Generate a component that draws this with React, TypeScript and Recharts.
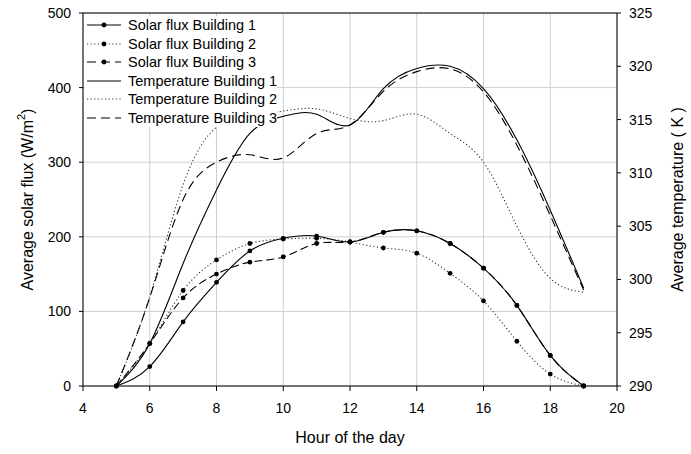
import React from 'react';
import { ComposedChart, Line, XAxis, YAxis, CartesianGrid, Legend, ReferenceLine, Label } from 'recharts';

const hours = [5, 6, 7, 8, 9, 10, 11, 12, 13, 14, 15, 16, 17, 18, 19];
const solar1 = [0, 26, 86, 139, 181, 198, 201, 193, 206, 208, 191, 158, 108, 41, 0];
const solar2 = [0, 57, 128, 169, 191, 197, 198, 193, 185, 178, 151, 114, 60, 16, 0];
const solar3 = [0, 57, 118, 150, 166, 173, 191, 193, 206, 208, 191, 158, 108, 41, 0];
const temp1 = [290, 294.0, 301.5, 308.4, 313.7, 315.3, 315.5, 314.5, 317.9, 319.8, 320.0, 317.9, 313.1, 306.5, 299.2];
const temp2 = [290, 298.4, 308.9, 314.3, 315.4, 315.8, 316.0, 315.1, 314.9, 315.5, 313.7, 311.0, 305.0, 300.1, 298.8];
const temp3 = [290, 298.3, 307.5, 311.0, 311.7, 311.4, 313.7, 314.5, 317.65, 319.5, 319.75, 317.6, 312.6, 306.0, 299.0];

const xTicks = [4, 6, 8, 10, 12, 14, 16, 18, 20];
const fluxTicks = [0, 100, 200, 300, 400, 500];
const tempTicks = [290, 295, 300, 305, 310, 315, 320, 325];

const seriesNames = [
  'Solar flux Building 1',
  'Solar flux Building 2',
  'Solar flux Building 3',
  'Temperature Building 1',
  'Temperature Building 2',
  'Temperature Building 3',
];

const data = hours.map((h, i) => ({
  h,
  s1: solar1[i],
  s2: solar2[i],
  s3: solar3[i],
  t1: temp1[i],
  t2: temp2[i],
  t3: temp3[i],
}));

const FONT = '"Liberation Sans", Arial, sans-serif';
const DOTTED = '1.2 2.4';
const DASHED = '9 5';
const legendStyles = [
  { dash: undefined, dot: true, color: '#000' },
  { dash: DOTTED, dot: true, color: '#333' },
  { dash: DASHED, dot: true, color: '#000' },
  { dash: undefined, dot: false, color: '#000' },
  { dash: DOTTED, dot: false, color: '#333' },
  { dash: DASHED, dot: false, color: '#000' },
];

const renderLegend = () => (
  <div style={{ fontFamily: FONT, fontSize: 14.5, color: '#000' }}>
    {seriesNames.map((name, i) => (
      <div key={name} style={{ display: 'flex', alignItems: 'center', height: 18.5, width: 'fit-content', background: '#fff' }}>
        <svg width={43} height={18} style={{ display: 'block' }}>
          <line x1={2} y1={9} x2={36} y2={9} stroke={legendStyles[i].color} strokeWidth={1.1} strokeDasharray={legendStyles[i].dash} />
          {legendStyles[i].dot && <circle cx={19} cy={9} r={2.4} fill="#000" />}
        </svg>
        <span style={{ whiteSpace: 'nowrap', lineHeight: '18px' }}>{name}</span>
      </div>
    ))}
  </div>
);

const XLabel = (props: any) => {
  const vb = props.viewBox;
  return (
    <text x={vb.x + vb.width / 2} y={vb.y + 57} textAnchor="middle" fontFamily={FONT} fontSize={16} fill="#000">
      Hour of the day
    </text>
  );
};

const LeftLabel = (props: any) => {
  const vb = props.viewBox;
  const cx = 27;
  const cy = vb.y + vb.height / 2;
  return (
    <text x={cx} y={cy} transform={`rotate(-90 ${cx} ${cy})`} textAnchor="middle" dominantBaseline="central" fontFamily={FONT} fontSize={16} fill="#000">
      Average solar flux (W/m<tspan fontSize={11} dy={-6}>2</tspan><tspan dy={6}>)</tspan>
    </text>
  );
};

const RightLabel = (props: any) => {
  const vb = props.viewBox;
  const cx = 677;
  const cy = vb.y + vb.height / 2;
  return (
    <text x={cx} y={cy} transform={`rotate(-90 ${cx} ${cy})`} textAnchor="middle" dominantBaseline="central" fontFamily={FONT} fontSize={16} fill="#000">
      Average temperature ( K )
    </text>
  );
};

const tickStyle = { fontFamily: FONT, fontSize: 14, fill: '#000' };
const dotStyle = { r: 2.4, fill: '#000', stroke: '#000', strokeWidth: 0 };

export default function App() {
  return (
    <div style={{ position: 'absolute', left: 0, top: 0, width: 691, height: 454, background: '#fff' }}>
      <ComposedChart width={691} height={454} data={data} margin={{ top: 13, right: 14, bottom: 18, left: 23 }}>
        <CartesianGrid yAxisId="left" stroke="#cfcfcf" strokeWidth={1} />
        <XAxis
          dataKey="h"
          type="number"
          domain={[4, 20]}
          ticks={xTicks}
          height={50}
          tickSize={5}
          tickMargin={12}
          tick={tickStyle}
          stroke="#000"
          axisLine={{ stroke: '#000' }}
          tickLine={{ stroke: '#000' }}
        >
          <Label content={XLabel} />
        </XAxis>
        <YAxis
          yAxisId="left"
          domain={[0, 500]}
          ticks={fluxTicks}
          width={60}
          tickSize={4}
          tickMargin={8}
          tick={tickStyle}
          axisLine={{ stroke: '#000' }}
          tickLine={{ stroke: '#000' }}
        >
          <Label content={LeftLabel} />
        </YAxis>
        <YAxis
          yAxisId="right"
          orientation="right"
          domain={[290, 325]}
          ticks={tempTicks}
          width={60}
          tickSize={4}
          tickMargin={8}
          tick={tickStyle}
          axisLine={{ stroke: '#000' }}
          tickLine={{ stroke: '#000' }}
        >
          <Label content={RightLabel} />
        </YAxis>
        <ReferenceLine yAxisId="left" y={500} stroke="#000" strokeWidth={1} />
        <Line yAxisId="right" dataKey="t2" name={seriesNames[4]} type="natural" stroke="#333" strokeWidth={1.1} strokeDasharray={DOTTED} dot={false} isAnimationActive={false} />
        <Line yAxisId="right" dataKey="t3" name={seriesNames[5]} type="natural" stroke="#000" strokeWidth={1.1} strokeDasharray={DASHED} dot={false} isAnimationActive={false} />
        <Line yAxisId="right" dataKey="t1" name={seriesNames[3]} type="natural" stroke="#000" strokeWidth={1.1} dot={false} isAnimationActive={false} />
        <Line yAxisId="left" dataKey="s3" name={seriesNames[2]} type="natural" stroke="#000" strokeWidth={1.1} strokeDasharray="8 4" dot={dotStyle} isAnimationActive={false} />
        <Line yAxisId="left" dataKey="s2" name={seriesNames[1]} type="natural" stroke="#333" strokeWidth={1.1} strokeDasharray={DOTTED} dot={dotStyle} isAnimationActive={false} />
        <Line yAxisId="left" dataKey="s1" name={seriesNames[0]} type="natural" stroke="#000" strokeWidth={1.1} dot={dotStyle} isAnimationActive={false} />
        <Legend
          layout="vertical"
          align="center"
          verticalAlign="middle"
          content={renderLegend}
          wrapperStyle={{ left: 85, top: 16, width: 'auto', height: 'auto' }}
        />
      </ComposedChart>
    </div>
  );
}
